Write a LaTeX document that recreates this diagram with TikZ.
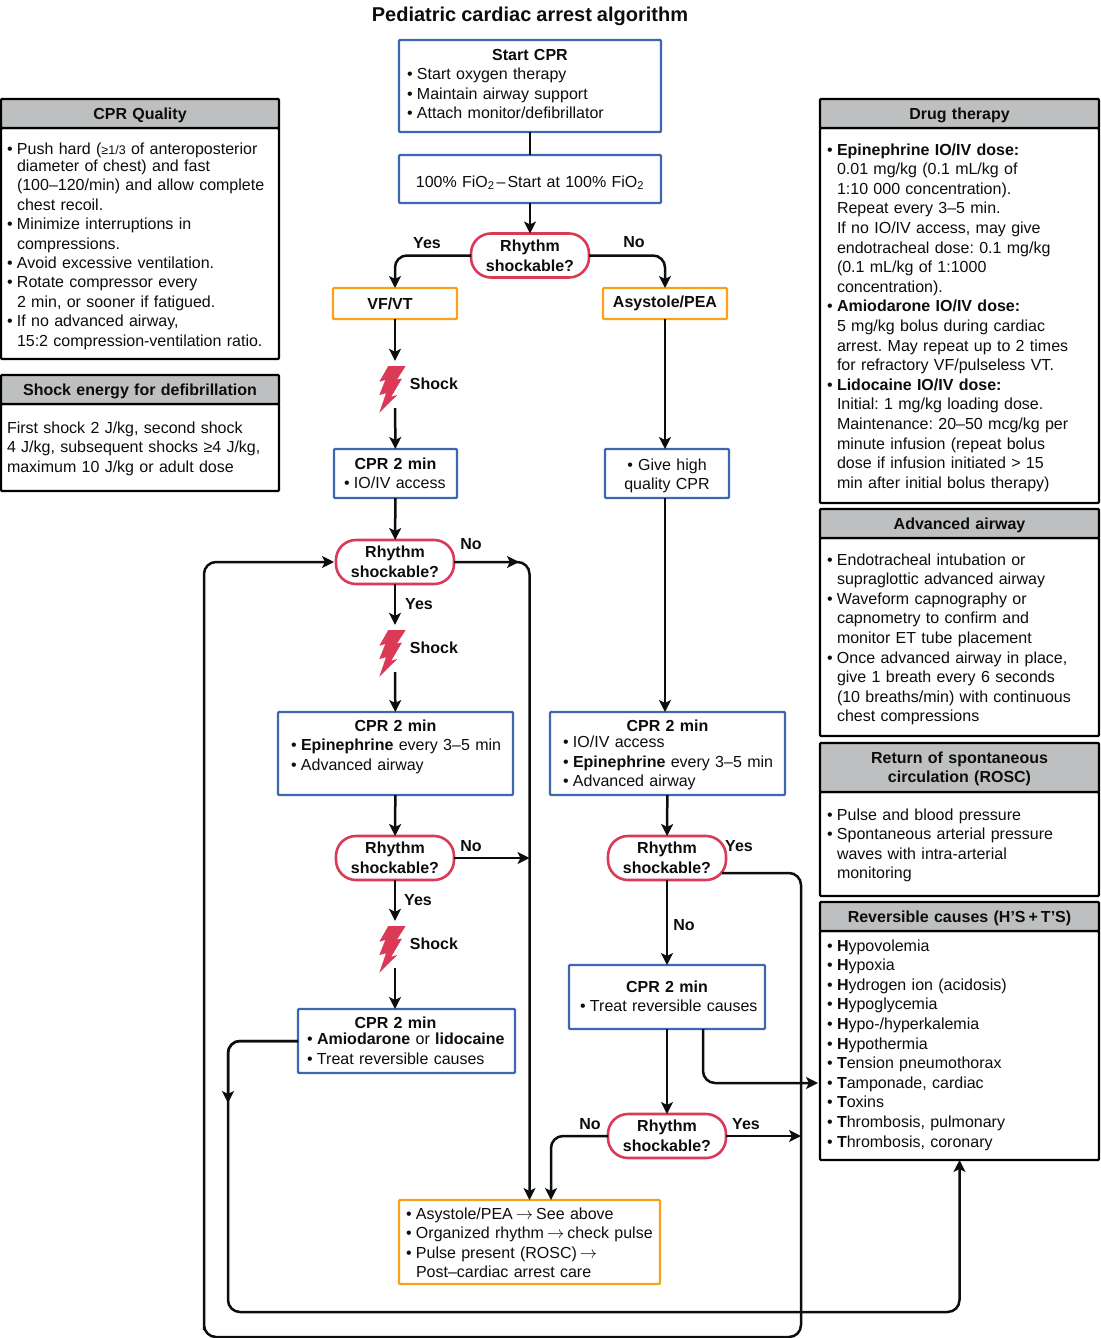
\documentclass[tikz,border=0pt]{standalone}
\usepackage{fontspec}
\setmainfont[WordSpace=0.9]{Liberation Sans}
\usetikzlibrary{arrows.meta}

\newcommand{\pad}{\hspace*{\boxpad pt}}
\newcommand{\bul}{\pad\makebox[10pt][l]{\textbullet}}
\newcommand{\ind}{\pad\hspace*{10pt}}
\newcommand{\boxhead}[2][0pt]{\leavevmode\hfill\textbf{#2}\hfill\hspace*{#1}\null}

\begin{document}
\frenchspacing
\begin{tikzpicture}[x=1pt,y=-1pt,
  every node/.style={font=\fontsize{16}{19.6}\selectfont,text=black!95},
  sized/.code n args={4}{\pgfmathsetmacro\boxtw{#1-2}\pgfmathsetmacro\boxpad{#3-1}%
    \pgfmathsetmacro\boxht{max(0,2*#4-#2)}\pgfmathsetmacro\boxdp{max(0,#2-2*#4)}%
    \tikzset{minimum width=#1pt,minimum height=#2pt,inner xsep=1pt,text width=\boxtw pt,text height=\boxht pt,text depth=\boxdp pt}},
  flowbox/.style={draw,line width=2.3pt,fill=white,anchor=north west,outer sep=0pt,inner ysep=0pt,align=left,rounded corners=1pt},
  bluebox/.style={flowbox,draw=cprblue},
  orangebox/.style={flowbox,draw=alertorange},
  tagbox/.style={orangebox,minimum width=124pt,minimum height=31pt,align=center,font=\fontsize{16}{19.6}\selectfont\bfseries},
  rhythm/.style={draw=pillred,line width=2.6pt,fill=white,minimum width=118pt,minimum height=44pt,inner sep=0pt,outer sep=0pt,rounded corners=20pt,align=center,font=\fontsize{16}{19.6}\selectfont\bfseries},
  panelhead/.style={draw=black,line width=2.4pt,fill=headgray,anchor=north west,outer sep=0pt,inner ysep=0pt,align=center,rounded corners=1pt,font=\fontsize{16}{19.6}\selectfont\bfseries},
  panelbody/.style={flowbox,draw=black,line width=2.4pt},
  tag/.style={inner sep=0pt,font=\fontsize{16}{19.6}\selectfont\bfseries},
  boltspot/.style={inner sep=0pt,minimum width=30pt,minimum height=47pt},
  wire/.style={line width=2.5pt,draw=black!95},
  flow/.style={wire,-{Stealth[length=12pt,width=12pt,inset=3pt]}},
  curved/.style={rounded corners=12pt},
  bolt/.pic={\fill[pillred] (-6.7,-18.5) -- (10.7,-18.5) -- (2,-5) -- (7,-6) -- (-3.7,12.2) -- (2.3,10.5) -- (-15.7,28.2) -- (-9,8.8) -- (-15.7,10.5) -- (-9.7,-4.5) -- (-15.7,-2.8) -- cycle;}]
% Define colours
\definecolor{cprblue}{RGB}{62,103,178}
\definecolor{alertorange}{RGB}{247,161,28}
\definecolor{pillred}{RGB}{218,58,86}
\definecolor{headgray}{RGB}{190,191,192}

\useasboundingbox (0,0) rectangle (1100,1338);

% Title
\node[inner sep=0pt,font=\fontsize{20}{24}\selectfont\bfseries] (title) at (530,16) {Pediatric cardiac arrest algorithm};

% Main flow, top part
\node[bluebox,sized={262}{92}{8}{20}] (start) at (399,40) {\boxhead{Start CPR}\\
  \bul Start oxygen therapy\\
  \bul Maintain airway support\\
  \bul Attach monitor/defibrillator};
\node[bluebox,sized={262}{48}{8}{32},align=center] (fio) at (399,155) {100\% FiO\textsubscript{2}\hspace{2pt}--\hspace{2pt}Start at 100\% FiO\textsubscript{2}};
\node[rhythm] (rhya) at (530,255.5) {Rhythm\\shockable?};
\node[tagbox] (vfvt) at (333,288) {VF/VT\hspace*{10pt}};
\node[tagbox] (asys) at (603,288) {Asystole/PEA};

% Left column
\node[boltspot] (shocka) at (395,384.5) {};
\pic at (shocka) {bolt};
\node[tag] (shockatxt) at (434,384) {Shock};
\node[bluebox,sized={123}{49}{10}{20}] (cpra) at (334,449) {\boxhead{CPR 2 min}\\ \bul IO/IV access};
\node[rhythm] (rhyb) at (395,562) {Rhythm\\shockable?};
\node[boltspot] (shockb) at (395,648.5) {};
\pic at (shockb) {bolt};
\node[tag] (shockbtxt) at (434,648) {Shock};
\node[bluebox,sized={235}{83}{13}{19}] (cprb) at (278,712) {\boxhead{CPR 2 min}\\
  \bul\textbf{Epinephrine} every 3--5 min\\
  \bul Advanced airway};
\node[rhythm] (rhyc) at (395,858) {Rhythm\\shockable?};
\node[boltspot] (shockc) at (395,944.5) {};
\pic at (shockc) {bolt};
\node[tag] (shockctxt) at (434,944) {Shock};
\node[bluebox,sized={217}{64}{9}{19}] (cprc) at (298,1009) {\boxhead[22pt]{CPR 2 min}\\[-3pt]
  \bul\textbf{Amiodarone} or \textbf{lidocaine}\\
  \bul Treat reversible causes};

% Right column
\node[bluebox,sized={124}{49}{9}{21},align=center] (quality) at (605,449) {\textbullet\ Give high\\ quality CPR};
\node[bluebox,sized={235}{83}{13}{19}] (cprd) at (550,712) {\boxhead{CPR 2 min}\\[-3pt]
  \bul IO/IV access\\
  \bul\textbf{Epinephrine} every 3--5 min\\
  \bul Advanced airway};
\node[rhythm] (rhyd) at (667,858) {Rhythm\\shockable?};
\node[bluebox,sized={196}{64}{11}{27}] (cpre) at (569,965) {\boxhead{CPR 2 min}\\
  \bul Treat reversible causes};
\node[rhythm] (rhye) at (667,1136) {Rhythm\\shockable?};
\node[orangebox,sized={261}{84}{7}{19}] (final) at (399,1200) {\bul Asystole/PEA\hspace{3pt}$\rightarrow$\hspace{3pt}See above\\
  \bul Organized rhythm\hspace{3pt}$\rightarrow$\hspace{3pt}check pulse\\
  \bul Pulse present (ROSC)\hspace{3pt}$\rightarrow$\\
  \ind Post–cardiac arrest care};

% Panels on the left
\node[panelbody,sized={278}{231}{6}{26},font=\fontsize{16}{19.4}\selectfont] (quabody) at (1,128) {\bul Push hard ({\fontsize{12.5}{19}\selectfont ≥1/3} of anteroposterior\\[-2pt]
  \ind diameter of chest) and fast\\
  \ind (100–120/min) and allow complete\\
  \ind chest recoil.\\
  \bul Minimize interruptions in\\
  \ind compressions.\\
  \bul Avoid excessive ventilation.\\
  \bul Rotate compressor every\\
  \ind 2 min, or sooner if fatigued.\\
  \bul If no advanced airway,\\
  \ind 15:2 compression-ventilation ratio.};
\node[panelhead,sized={278}{29}{6}{20}] (quahead) at (1,99) {CPR Quality};
\node[panelbody,sized={278}{87}{6}{29}] (enebody) at (1,404) {\pad First shock 2 J/kg, second shock\\
  \pad 4 J/kg, subsequent shocks ≥4 J/kg,\\
  \pad maximum 10 J/kg or adult dose};
\node[panelhead,sized={278}{29}{6}{20}] (enehead) at (1,375) {Shock energy for defibrillation};

% Panels on the right
\node[panelbody,sized={279}{375}{7}{27}] (drubody) at (820,128) {\bul\textbf{Epinephrine IO/IV dose:}\\
  \ind 0.01 mg/kg (0.1 mL/kg of\\
  \ind 1:10 000 concentration).\\
  \ind Repeat every 3–5 min.\\
  \ind If no IO/IV access, may give\\
  \ind endotracheal dose: 0.1 mg/kg\\
  \ind (0.1 mL/kg of 1:1000\\
  \ind concentration).\\
  \bul\textbf{Amiodarone IO/IV dose:}\\
  \ind 5 mg/kg bolus during cardiac\\
  \ind arrest. May repeat up to 2 times\\
  \ind for refractory VF/pulseless VT.\\
  \bul\textbf{Lidocaine IO/IV dose:}\\
  \ind Initial: 1 mg/kg loading dose.\\
  \ind Maintenance: 20–50 mcg/kg per\\
  \ind minute infusion (repeat bolus\\
  \ind dose if infusion initiated > 15\\
  \ind min after initial bolus therapy)};
\node[panelhead,sized={279}{29}{7}{20}] (druhead) at (820,99) {Drug therapy};
\node[panelbody,sized={279}{198}{7}{27}] (airbody) at (820,538) {\bul Endotracheal intubation or\\
  \ind supraglottic advanced airway\\
  \bul Waveform capnography or\\
  \ind capnometry to confirm and\\
  \ind monitor ET tube placement\\
  \bul Once advanced airway in place,\\
  \ind give 1 breath every 6 seconds\\
  \ind (10 breaths/min) with continuous\\
  \ind chest compressions};
\node[panelhead,sized={279}{29}{7}{20}] (airhead) at (820,509) {Advanced airway};
\node[panelbody,sized={279}{104}{7}{28}] (rosbody) at (820,792) {\bul Pulse and blood pressure\\
  \bul Spontaneous arterial pressure\\
  \ind waves with intra-arterial\\
  \ind monitoring};
\node[panelhead,sized={279}{49}{7}{20}] (roshead) at (820,743) {Return of spontaneous\\circulation (ROSC)};
\node[panelbody,sized={279}{229}{7}{20}] (caubody) at (820,931) {\bul\textbf{H}ypovolemia\\
  \bul\textbf{H}ypoxia\\
  \bul\textbf{H}ydrogen ion (acidosis)\\
  \bul\textbf{H}ypoglycemia\\
  \bul\textbf{H}ypo-/hyperkalemia\\
  \bul\textbf{H}ypothermia\\
  \bul\textbf{T}ension pneumothorax\\
  \bul\textbf{T}amponade, cardiac\\
  \bul\textbf{T}oxins\\
  \bul\textbf{T}hrombosis, pulmonary\\
  \bul\textbf{T}hrombosis, coronary};
\node[panelhead,sized={279}{29}{7}{20}] (cauhead) at (820,902) {Reversible causes (H’S\hspace{3pt}+\hspace{3pt}T’S)};

% Free ends of the connectors
\coordinate (noin) at (519,562);
\coordinate (finaltop) at (551,1200);
\coordinate (loopout) at (722,873);
\coordinate (loopse) at (801,1337);
\coordinate (loopsw) at (204,1337);
\coordinate (cornersw) at (228,1312);
\coordinate (midarrow) at (228,1103);
\coordinate (cpreout) at (703,1029);
\coordinate (causein) at (818,1083);

% Connectors of the main flow
\draw[wire] (start) -- (fio);
\draw[flow] (fio) -- (rhya);
\draw[flow,curved] (rhya.west) -| (vfvt.north);
\draw[flow,curved] (rhya.east) -| (asys.north);
\draw[flow] (vfvt) -- (shocka);
\draw[flow] (shocka) -- (cpra);
\draw[flow] (cpra) -- (rhyb);
\draw[flow] (rhyb) -- (shockb);
\draw[flow] (shockb) -- (cprb);
\draw[flow] (cprb) -- (rhyc);
\draw[flow] (rhyc) -- (shockc);
\draw[flow] (shockc) -- (cprc.north -| shockc);
\draw[flow] (asys.south) -- (quality.north -| asys.south);
\draw[flow] (quality.south -| asys.south) -- (cprd.north -| asys.south);
\draw[flow] (cprd) -- (rhyd);
\draw[flow] (rhyd) -- (cpre);
\draw[flow] (cpre) -- (rhye);

% Connectors to the last box and round the sides
\draw[flow,curved] (rhyb.east) -| (final.north);
\draw[flow] (rhyb.east) -- (noin);
\draw[flow] (rhyc.east) -- (rhyc.east -| final.north);
\draw[flow,curved] (rhye.west) -| (finaltop);
\draw[flow] (rhye.east) -- (rhye.east -| loopse);
\draw[flow,curved,shorten >=2pt] (loopout) -| (loopse) -| (loopsw) |- (rhyb.west);
\draw[flow,curved] (cprc.west) -| (cornersw) -| (caubody.south);
\draw[flow,curved] (cprc.west) -| (midarrow);
\draw[flow,curved] (cpreout) |- (causein);

% Yes and no labels
\node[tag] (yesa) at (427,243) {Yes};
\node[tag] (noa) at (634,242) {No};
\node[tag] (yesb) at (419,604) {Yes};
\node[tag] (nob) at (471,544) {No};
\node[tag] (yesc) at (418,900) {Yes};
\node[tag] (noc) at (471,846) {No};
\node[tag] (yesd) at (739,846) {Yes};
\node[tag] (nod) at (684,925) {No};
\node[tag] (noe) at (590,1124) {No};
\node[tag] (yese) at (746,1124) {Yes};
\end{tikzpicture}
\end{document}
